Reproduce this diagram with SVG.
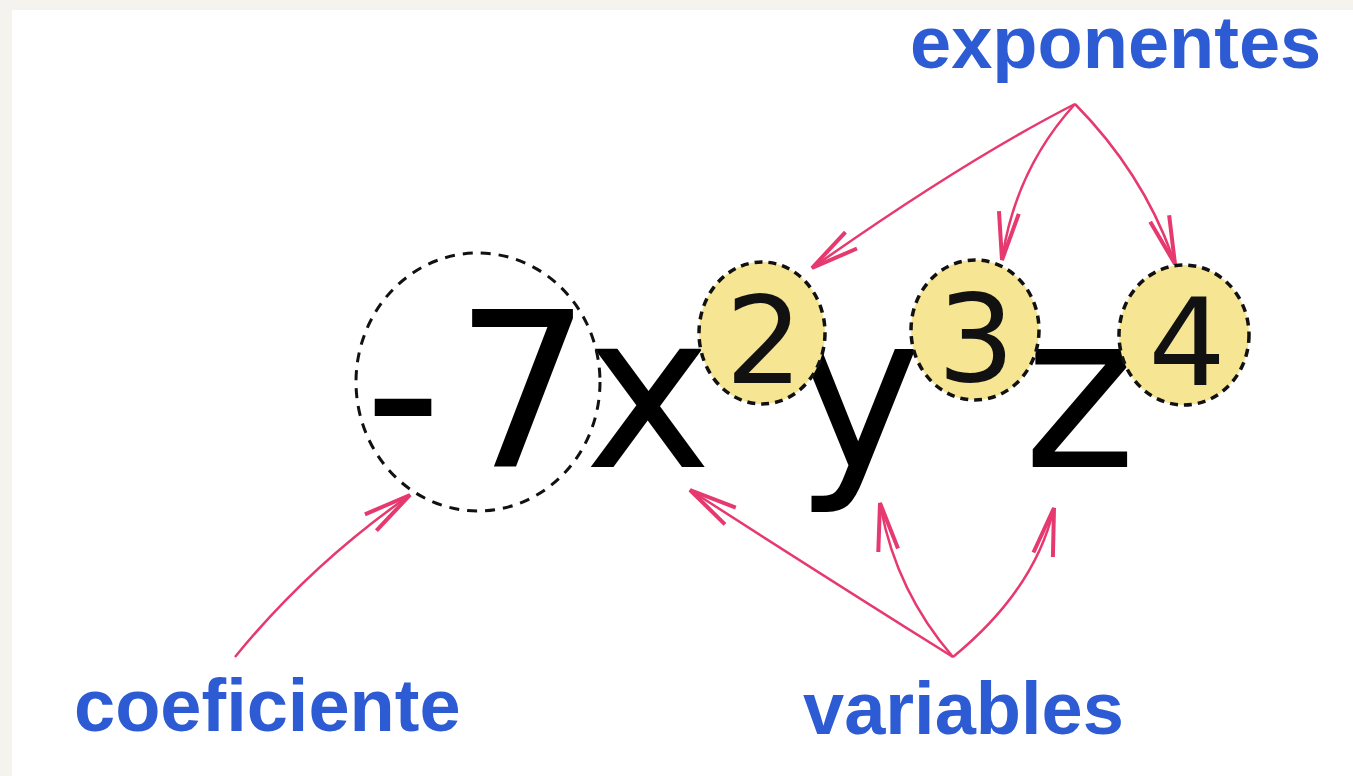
<svg xmlns="http://www.w3.org/2000/svg" width="1353" height="776" viewBox="0 0 1353 776">
<style>
.big{font-family:"DejaVu Sans",Verdana,sans-serif;font-size:215px;fill:#000;text-anchor:middle}
.exp{font-family:"DejaVu Sans",Verdana,sans-serif;font-size:122px;fill:#111;text-anchor:middle}
.lbl{font-family:"Liberation Sans",Arial,sans-serif;font-weight:bold;font-size:74px;fill:#2d5bd3}
.ring{fill:#f6e592;stroke:#111;stroke-width:3.5;stroke-dasharray:8 6}
.coef{fill:none;stroke:#111;stroke-width:3;stroke-dasharray:10 8}
.arr{fill:none;stroke:#e6396f;stroke-width:2.5;marker-end:url(#head)}
</style>
<defs>
<marker id="head" markerUnits="userSpaceOnUse" viewBox="-60 -16 64 32" refX="0" refY="0" markerWidth="64" markerHeight="32" orient="auto">
<path d="M-48,-10 L0,0 L-48,10" fill="none" stroke="#e6396f" stroke-width="4" stroke-linejoin="miter"/>
</marker>
</defs>
<rect x="0" y="0" width="1353" height="776" fill="#f4f3ee"/>
<rect x="12" y="10" width="1341" height="766" fill="#ffffff"/>
<g id="connectors">
<path class="arr" d="M1075,104 Q965,160 812,268"/>
<path class="arr" d="M1075,104 Q1015,170 1002,260"/>
<path class="arr" d="M1075,104 Q1145,175 1175,264"/>
<path class="arr" d="M953,657 Q830,580 690,490"/>
<path class="arr" d="M953,657 Q895,590 880,503"/>
<path class="arr" d="M953,657 Q1035,590 1054,508"/>
<path class="arr" d="M235,657 Q310,565 410,495"/>
</g>
<g id="term">
<text class="big" x="403" y="467">-</text>
<text class="big" x="523" y="467">7</text>
<text class="big" x="648" y="467">x</text>
<text class="big" x="858" y="467">y</text>
<text class="big" x="1080" y="467">z</text>
</g>
<g id="coeficiente-circle">
<ellipse class="coef" cx="478" cy="382" rx="122" ry="129"/>
</g>
<g id="exp-2">
<ellipse class="ring" cx="762" cy="333" rx="63" ry="71"/>
<text class="exp" x="764" y="383">2</text>
</g>
<g id="exp-3">
<ellipse class="ring" cx="975" cy="330" rx="64" ry="70"/>
<text class="exp" x="976" y="381">3</text>
</g>
<g id="exp-4">
<ellipse class="ring" cx="1184" cy="335" rx="65" ry="70"/>
<text class="exp" x="1187" y="385">4</text>
</g>
<g id="label-exponentes">
<text class="lbl" x="910" y="68">exponentes</text>
</g>
<g id="label-coeficiente">
<text class="lbl" x="74" y="731">coeficiente</text>
</g>
<g id="label-variables">
<text class="lbl" x="803" y="734">variables</text>
</g>
</svg>
